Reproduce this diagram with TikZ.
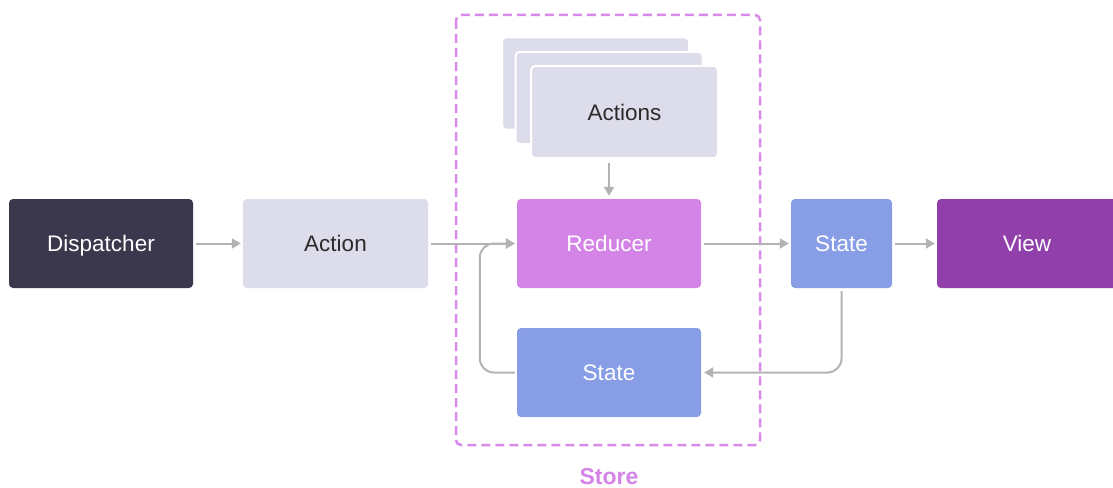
\documentclass[tikz,border=0pt]{standalone}
\usepackage{fontspec}
\setmainfont{Liberation Sans}
\usetikzlibrary{arrows.meta,calc}
\definecolor{darkbox}{HTML}{3B384D}
\definecolor{lightbox}{HTML}{DDDCEA}
\definecolor{reducerc}{HTML}{D483E6}
\definecolor{statec}{HTML}{879DE6}
\definecolor{viewc}{HTML}{9140AB}
\definecolor{arrowc}{HTML}{B3B3B3}
\definecolor{storec}{HTML}{D98BEA}
\definecolor{textdark}{HTML}{2B2B2B}
\tikzset{
  box/.style={rounded corners=4pt, minimum height=89pt, inner sep=0pt,
    text height=16pt, text depth=0pt,
    font=\fontsize{22.5}{26}\selectfont},
  card/.style={box, fill=lightbox, draw=white, line width=2pt,
    minimum width=187pt, minimum height=92pt, text=textdark},
  flow/.style={draw=arrowc, line width=2pt,
    -{Triangle[length=9pt,width=10pt]}},
}
\begin{document}
\begin{tikzpicture}[x=1pt,y=-1pt]
\useasboundingbox (0,0) rectangle (1113,487);

% store frame
\draw[storec, line width=2.5pt, dash pattern=on 9pt off 5pt, rounded corners=5pt]
  (456,15) rectangle (760,445);
\node[text=reducerc, font=\fontsize{23}{26}\selectfont\bfseries, anchor=base,
  inner sep=0pt] (storelbl) at (609,484) {Store};

% main row
\node[box, fill=darkbox, text=white, minimum width=184pt] (disp) at (101,243.5) {Dispatcher};
\node[box, fill=lightbox, text=textdark, minimum width=185pt] (act) at (335.5,243.5) {Action};
\node[box, fill=reducerc, text=white, minimum width=184pt] (red) at (609,243.5) {Reducer};
\node[box, fill=statec, text=white, minimum width=101pt] (sr) at (841.5,243.5) {State};
\node[box, fill=viewc, text=white, minimum width=180pt] (view) at (1027,243.5) {View};
\node[box, fill=statec, text=white, minimum width=184pt] (sb) at (609,372.5) {State};

% stacked action cards
\node[card] (c3) at (595.5,83.5) {};
\node[card] (c2) at (609,98) {};
\node[card] (c1) at (624.5,112) {Actions};

% connectors
\draw[flow, shorten <=3pt, shorten >=2pt] (disp) -- (act);
\draw[flow, shorten <=3pt, shorten >=2pt] (act) -- (red);
\draw[flow, shorten <=3pt, shorten >=2pt] (red) -- (sr);
\draw[flow, shorten <=3pt, shorten >=2pt] (sr) -- (view);
\draw[flow, shorten <=4pt, shorten >=3pt] (c1.south -| red.north) -- (red.north);
\coordinate (loopx) at ($(red.west)+(-37,0)$);
\draw[flow, rounded corners=14pt, shorten <=3pt, shorten >=3pt] (sr.south) |- (sb.east);
\draw[flow, rounded corners=14pt, shorten <=2pt, shorten >=2pt] (sb.west) -| (loopx) -- (red.west);
\end{tikzpicture}
\end{document}
